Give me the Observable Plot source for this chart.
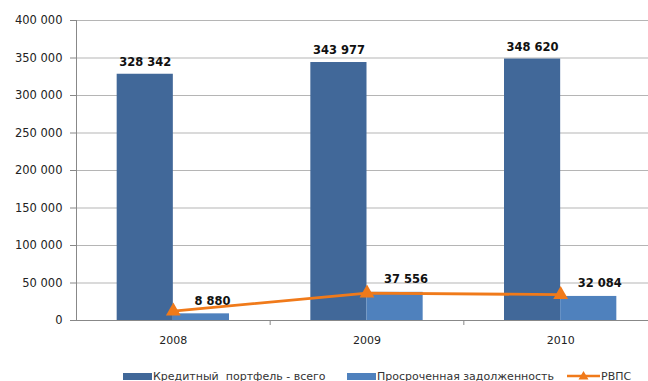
<!DOCTYPE html>
<html>
<head>
<meta charset="utf-8">
<script src="https://cdn.jsdelivr.net/npm/d3@7"></script>
<script src="https://cdn.jsdelivr.net/npm/@observablehq/plot@0.6"></script>
<style>
  html, body { margin: 0; padding: 0; background: #fff; }
  #wrap { position: relative; width: 648px; height: 381px; overflow: hidden; font-family: "DejaVu Sans", sans-serif; }
  #legend { position: absolute; left: 0; top: 369px; width: 648px; height: 14px; display: flex; align-items: center; font-size: 11px; color: #333; }
  .item { display: flex; align-items: center; position: absolute; top: 0; height: 14px; }
  .sw { display: inline-block; width: 29px; height: 7px; margin-right: 1px; }
</style>
</head>
<body>
<div id="wrap"></div>
<script>
const years = [2008, 2009, 2010];
const portfolio = [328342, 343977, 348620];
const overdue = [8880, 37556, 32084];
const rvps = [12500, 36500, 34500];
const yTicks = [0, 50000, 100000, 150000, 200000, 250000, 300000, 350000, 400000];
const seriesNames = ["Кредитный  портфель - всего", "Просроченная задолженность", "РВПС"];
const colors = ["#416899", "#4f81bd", "#f07a1a"];

const fmt = d => d3.format(",")(d).replace(/,/g, "\u00a0");
const rows = years.map((y, i) => ({year: y, portfolio: portfolio[i], overdue: overdue[i], rvps: rvps[i]}));
const bw = 0.29;

const chart = Plot.plot({
  width: 648,
  height: 357,
  marginLeft: 76,
  marginRight: -9,
  marginTop: 20,
  marginBottom: 37,
  style: {fontFamily: "DejaVu Sans, sans-serif", fontSize: "11px", background: "#fff", color: "#222"},
  x: {type: "linear", domain: [2007.5, 2010.5]},
  y: {domain: [0, 400000]},
  marks: [
    Plot.gridY(yTicks, {stroke: "#b5b5b5", strokeOpacity: 1}),
    Plot.axisY(yTicks, {tickSize: 6, tickPadding: 8, tickFormat: fmt, label: null, stroke: "#888", fontSize: 11.5}),
    Plot.axisX([2008.5, 2009.5, 2010.5], {tickSize: 5, tickFormat: () => "", label: null, stroke: "#888"}),
    Plot.axisX(years, {tickSize: 0, tickPadding: 16, tickFormat: d => String(d), label: null, fontSize: 11}),
    Plot.rectY(rows, {x1: d => d.year - bw, x2: d => d.year, y: "portfolio", fill: colors[0]}),
    Plot.rectY(rows, {x1: d => d.year, x2: d => d.year + bw, y: "overdue", fill: colors[1]}),
    Plot.ruleX([2007.5], {y1: 0, y2: 400000, stroke: "#888"}),
    Plot.ruleY([0], {stroke: "#888"}),
    Plot.line(rows, {x: "year", y: "rvps", stroke: colors[2], strokeWidth: 2.8}),
    Plot.dot(rows, {x: "year", y: "rvps", symbol: "triangle", r: 5.5, fill: colors[2], stroke: null}),
    Plot.text(rows, {x: d => d.year - bw / 2, y: "portfolio", text: d => fmt(d.portfolio), dy: -12, fontWeight: "bold", fontSize: 11.5, fill: "#111"}),
    Plot.text(rows, {x: d => d.year + bw / 2, y: "overdue", text: d => fmt(d.overdue), dy: -13, dx: 11, fontWeight: "bold", fontSize: 11.5, fill: "#111"})
  ]
});

const wrap = document.getElementById("wrap");
wrap.appendChild(chart);

const legend = document.createElement("div");
legend.id = "legend";
legend.innerHTML = `
  <div class="item" style="left:123px"><span class="sw" style="background:${colors[0]}"></span><span style="white-space:pre">${seriesNames[0]}</span></div>
  <div class="item" style="left:347px"><span class="sw" style="background:${colors[1]}"></span><span>${seriesNames[1]}</span></div>
  <div class="item" style="left:567px"><svg width="33" height="14" style="margin-right:1px"><line x1="0" y1="7" x2="33" y2="7" stroke="${colors[2]}" stroke-width="2.5"/><path d="M16.5,2 L21.5,10.5 L11.5,10.5 Z" fill="${colors[2]}"/></svg><span>${seriesNames[2]}</span></div>
`;
wrap.appendChild(legend);
</script>
</body>
</html>
